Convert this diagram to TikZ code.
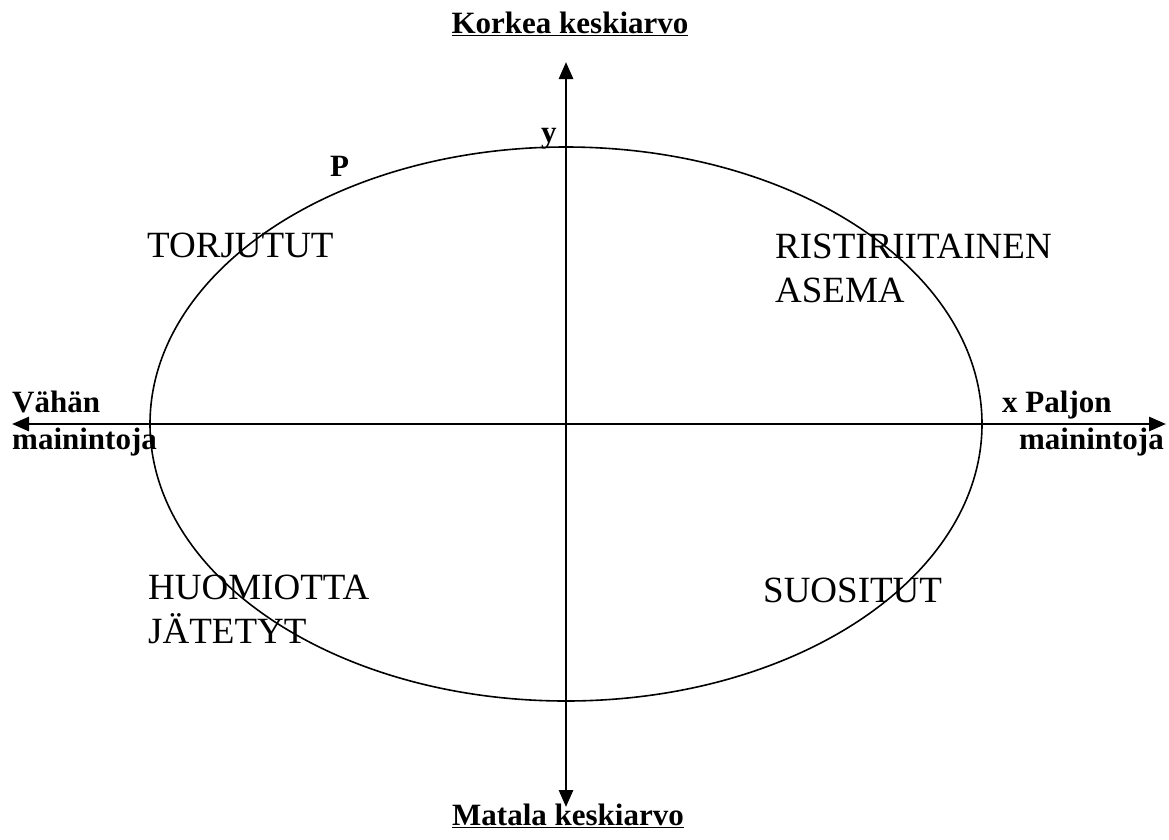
\documentclass[tikz,border=0pt]{standalone}
\usepackage{fontspec}
\setmainfont{Liberation Serif}
\usetikzlibrary{arrows.meta}
\tikzset{
  axis/.style={line width=2.8pt,-{Triangle[length=17pt,width=14pt]}},
  quad/.style={font=\fontsize{37}{44}\selectfont,anchor=base west,inner sep=0pt,align=left},
  lbl/.style={font=\fontsize{31}{38}\selectfont\bfseries,inner sep=0pt},
}
\begin{document}
\begin{tikzpicture}[x=1pt,y=-1pt]
\useasboundingbox (0,0) rectangle (1169,839);
\coordinate (O) at (566,424);
\coordinate (top) at (566,62);
\coordinate (bot) at (566,807);
\coordinate (left) at (12,424);
\coordinate (right) at (1166,424);
\draw[line width=1.6pt] (O) ellipse [x radius=416, y radius=277];
\draw[axis] (O) -- (top);
\draw[axis] (O) -- (bot);
\draw[axis] (O) -- (left);
\draw[axis] (O) -- (right);
\node[lbl,anchor=base] (hi) at (570,33) {\underline{Korkea keskiarvo}};
\node[lbl,anchor=base] (lo) at (568,825) {\underline{Matala keskiarvo}};
\node[lbl,anchor=base west] (y) at (541,142) {y};
\node[lbl,anchor=base west] (p) at (330,176) {P};
\node[lbl,anchor=base west] (vah) at (12,412) {Vähän};
\node[lbl,anchor=base west] (mv) at (12,449) {mainintoja};
\node[lbl,anchor=base west] (pal) at (1002,412) {x Paljon};
\node[lbl,anchor=base east] (mp) at (1164,449) {mainintoja};
\node[quad] (tor) at (147,257) {TORJUTUT};
\node[quad] (ris) at (775,302) {RISTIRIITAINEN\\ASEMA};
\node[quad] (huo) at (148,643) {HUOMIOTTA\\JÄTETYT};
\node[quad] (suo) at (763,602) {SUOSITUT};
\end{tikzpicture}
\end{document}
